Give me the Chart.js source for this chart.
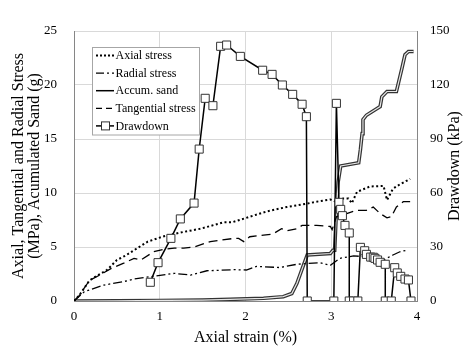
<!DOCTYPE html>
<html>
<head>
<meta charset="utf-8">
<script src="https://cdn.jsdelivr.net/npm/chart.js@4"></script>
<style>
  body { margin: 0; background: #fff; }
  canvas { display: block; }
</style>
</head>
<body>
<canvas id="myChart" width="469" height="349"></canvas>
<script>
// data
const axialStrain = [0, 0.06, 0.18, 0.28, 0.39, 0.50, 0.60, 0.70, 0.86, 1.05, 1.28, 1.48, 1.75, 1.85, 2.05, 2.25, 2.48, 2.71, 2.83, 2.99, 3.05, 3.14, 3.20, 3.24, 3.30, 3.45, 3.61, 3.65, 3.72, 3.80, 3.92];
const axialStress = [0, 0.5, 1.9, 2.4, 2.9, 3.8, 4.2, 4.7, 5.5, 6.0, 6.4, 6.7, 7.3, 7.3, 7.8, 8.3, 8.7, 9.0, 9.2, 9.4, 9.2, 9.5, 9.5, 9.05, 10.1, 10.6, 10.65, 9.35, 10.4, 10.8, 11.3];

const radialStrain = [0, 0.12, 0.35, 0.58, 0.70, 0.89, 1.17, 1.36, 1.55, 1.87, 2.01, 2.13, 2.40, 2.60, 2.87, 2.99, 3.10, 3.26, 3.41, 3.61, 3.72, 3.80, 3.88];
const radialStress = [0, 0.86, 1.48, 1.8, 2.04, 2.25, 2.56, 2.4, 2.8, 2.9, 2.87, 3.2, 3.1, 3.4, 3.55, 3.3, 3.95, 4.17, 4.1, 3.8, 4.26, 4.56, 4.7];

const tangStrain = [0, 0.06, 0.18, 0.30, 0.43, 0.58, 0.70, 0.78, 0.93, 1.05, 1.17, 1.28, 1.40, 1.59, 1.87, 1.92, 1.98, 2.05, 2.21, 2.32, 2.42, 2.48, 2.60, 2.66, 2.83, 2.99, 3.01, 3.06, 3.18, 3.30, 3.41, 3.49, 3.57, 3.65, 3.70, 3.76, 3.84, 3.92];
const tangStress = [0, 0.5, 1.9, 2.4, 3.0, 3.5, 3.95, 3.8, 4.56, 4.8, 4.9, 4.9, 5.0, 5.5, 5.8, 5.8, 5.5, 5.95, 6.1, 6.2, 6.7, 6.5, 6.7, 7.0, 7.0, 6.9, 6.6, 7.8, 8.1, 8.4, 8.4, 8.7, 8.1, 7.7, 7.8, 8.7, 9.2, 9.2];

const sandStrain = [0, 0.5, 1.0, 1.5, 1.82, 2.21, 2.44, 2.54, 2.60, 2.67, 2.72, 2.99, 3.02, 3.04, 3.06, 3.08, 3.11, 3.32, 3.34, 3.36, 3.37, 3.41, 3.47, 3.53, 3.57, 3.59, 3.65, 3.76, 3.82, 3.86, 3.90, 3.96];
const sandGrams = [0, 0.02, 0.05, 0.08, 0.15, 0.25, 0.4, 0.7, 1.64, 3.18, 4.26, 4.4, 4.7, 4.7, 8.4, 11.0, 12.5, 12.8, 14.0, 15.5, 16.8, 17.2, 17.5, 17.8, 18.0, 18.9, 19.4, 19.4, 21.4, 22.8, 23.1, 23.1];

const drawStrain = [0.89, 0.98, 1.13, 1.24, 1.40, 1.46, 1.53, 1.62, 1.71, 1.78, 1.94, 2.20, 2.31, 2.43, 2.55, 2.66, 2.71, 2.72, 3.03, 3.06, 3.09, 3.11, 3.13, 3.16, 3.21, 3.21, 3.26, 3.31, 3.34, 3.39, 3.41, 3.46, 3.49, 3.51, 3.54, 3.57, 3.63, 3.63, 3.70, 3.74, 3.77, 3.81, 3.86, 3.90, 3.93];
const drawKPa = [10.4, 21.3, 34.8, 45.6, 54.4, 84.4, 112.6, 108.5, 141.5, 142.2, 135.9, 128.2, 125.9, 120, 114.8, 109.3, 102.4, 0, 0, 109.8, 54.8, 50.9, 47.4, 42, 37.8, 0, 0, 0, 29.8, 27.9, 25.9, 24.4, 24.3, 23.7, 22.8, 21.5, 20.4, 0, 0, 18.5, 15.6, 13.7, 12.2, 11.7, 0];

const xTicks = [0, 1, 2, 3, 4];
const leftTicks = [0, 5, 10, 15, 20, 25];
const rightTicks = [0, 30, 60, 90, 120, 150];

const legendNames = ['Axial stress', 'Radial stress', 'Accum. sand', 'Tangential stress', 'Drawdown'];

const pts = (xs, ys) => xs.map((x, i) => ({ x: x, y: ys[i] }));
const serif = 'Liberation Serif, Times New Roman, serif';

// legend drawn inside the plot, like the original
const boxLegend = {
    id: 'boxLegend',
    afterDraw(chart) {
        const c = chart.ctx;
        c.save();
        c.fillStyle = '#fff';
        c.strokeStyle = '#a6a6a6';
        c.lineWidth = 1;
        c.fillRect(92.5, 47.5, 107, 87.5);
        c.strokeRect(92.5, 47.5, 107, 87.5);
        const styles = [
            { dash: [2, 2], w: 2 },
            { dash: [8, 3, 2, 3], w: 1.3 },
            { dash: [], w: 1.5 },
            { dash: [6, 4], w: 1.3 },
            { dash: [], w: 1.5, marker: true }
        ];
        c.font = '12px ' + serif;
        c.textBaseline = 'middle';
        legendNames.forEach((name, i) => {
            const y = 55.5 + i * 17.6;
            const s = styles[i];
            c.setLineDash(s.dash);
            c.lineWidth = s.w;
            c.strokeStyle = '#000';
            c.beginPath();
            c.moveTo(96, y);
            c.lineTo(114, y);
            c.stroke();
            c.setLineDash([]);
            if (s.marker) {
                c.fillStyle = '#fff';
                c.strokeStyle = '#333';
                c.lineWidth = 1;
                c.fillRect(101.5, y - 4, 8, 8);
                c.strokeRect(101.5, y - 4, 8, 8);
            }
            c.fillStyle = '#000';
            c.fillText(name, 115.5, y + 0.5);
        });
        // right axis title reads bottom to top
        c.translate(455, 166);
        c.rotate(-Math.PI / 2);
        c.textAlign = 'center';
        c.font = '16px ' + serif;
        c.fillText('Drawdown (kPa)', 0, 0);
        c.restore();
    }
};

const ctx = document.getElementById('myChart').getContext('2d');
const myChart = new Chart(ctx, {
    type: 'line',
    data: {
        datasets: [{
            label: 'Drawdown',
            data: pts(drawStrain, drawKPa),
            yAxisID: 'y1',
            borderColor: '#000',
            borderWidth: 1.5,
            pointStyle: 'rect',
            pointRadius: 5.7,
            pointBackgroundColor: '#fff',
            pointBorderColor: '#333',
            pointBorderWidth: 1,
            order: 0
        }, {
            label: 'Axial stress',
            data: pts(axialStrain, axialStress),
            yAxisID: 'y',
            borderColor: '#000',
            borderWidth: 2,
            borderDash: [2, 2.5],
            pointRadius: 0,
            order: 1
        }, {
            label: 'Tangential stress',
            data: pts(tangStrain, tangStress),
            yAxisID: 'y',
            borderColor: '#000',
            borderWidth: 1.3,
            borderDash: [9, 5],
            pointRadius: 0,
            order: 2
        }, {
            label: 'Radial stress',
            data: pts(radialStrain, radialStress),
            yAxisID: 'y',
            borderColor: '#000',
            borderWidth: 1.3,
            borderDash: [9, 3, 2, 3, 2, 3],
            pointRadius: 0,
            order: 3
        }, {
            label: 'Accum. sand inner',
            data: pts(sandStrain, sandGrams),
            yAxisID: 'y',
            borderColor: '#e6e6e6',
            borderWidth: 1.2,
            pointRadius: 0,
            order: 4
        }, {
            label: 'Accum. sand',
            data: pts(sandStrain, sandGrams),
            yAxisID: 'y',
            borderColor: '#333',
            borderWidth: 3.6,
            pointRadius: 0,
            order: 5
        }]
    },
    options: {
        responsive: false,
        animation: false,
        layout: { padding: { top: 31, left: 0, right: 0, bottom: 0 } },
        plugins: {
            legend: { display: false },
            tooltip: { enabled: false }
        },
        scales: {
            x: {
                type: 'linear',
                min: 0,
                max: 4,
                afterFit: s => { s.height = 48; },
                afterBuildTicks: s => { s.ticks = xTicks.map(v => ({ value: v })); },
                grid: { color: '#d9d9d9', drawTicks: false },
                border: { color: '#868686' },
                ticks: { padding: 8, color: '#000', font: { family: serif, size: 13 } },
                title: {
                    display: true,
                    text: 'Axial strain (%)',
                    color: '#000',
                    font: { family: serif, size: 16 },
                    padding: { top: 0, bottom: 2 }
                }
            },
            y: {
                position: 'left',
                min: 0,
                max: 25,
                afterFit: s => { s.width = 74; },
                afterBuildTicks: s => { s.ticks = leftTicks.map(v => ({ value: v })); },
                grid: { color: '#d9d9d9', drawTicks: false },
                border: { color: '#868686' },
                ticks: { padding: 17, color: '#000', font: { family: serif, size: 13 } },
                title: {
                    display: true,
                    text: ['Axial, Tangential and Radial Stress', '(MPa), Acumulated Sand (g)'],
                    color: '#000',
                    font: { family: serif, size: 16, lineHeight: 1.0 },
                    padding: { top: 11, bottom: 0 }
                }
            },
            y1: {
                position: 'right',
                min: 0,
                max: 150,
                afterFit: s => { s.width = 52; },
                afterBuildTicks: s => { s.ticks = rightTicks.map(v => ({ value: v })); },
                grid: { drawOnChartArea: false, drawTicks: false },
                border: { color: '#868686' },
                ticks: { padding: 13, color: '#000', font: { family: serif, size: 13 } }
            }
        }
    },
    plugins: [boxLegend]
});
</script>
</body>
</html>
